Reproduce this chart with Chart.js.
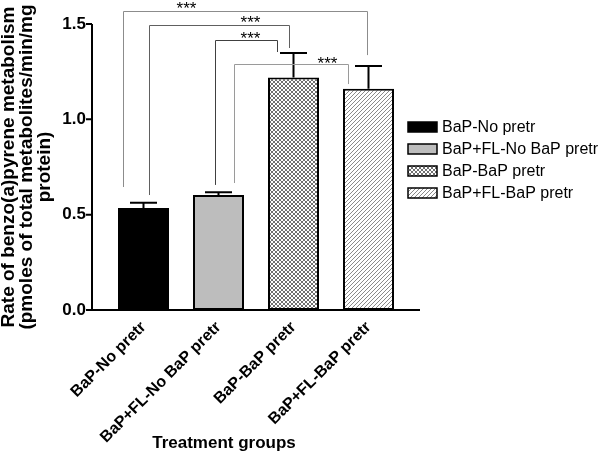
<!DOCTYPE html>
<html>
<head>
<meta charset="utf-8">
<script src="https://cdn.jsdelivr.net/npm/chart.js@4.4.1/dist/chart.umd.min.js"></script>
<style>
  body { margin: 0; background: #fff; }
  #wrap { width: 600px; height: 457px; }
</style>
</head>
<body>
<div id="wrap"><canvas id="myBarChart"></canvas></div>
<script>
// data
var groups = ['BaP-No pretr', 'BaP+FL-No BaP pretr', 'BaP-BaP pretr', 'BaP+FL-BaP pretr'];
var rates = [0.535, 0.603, 1.220, 1.161];
var rateErrors = [0.028, 0.015, 0.128, 0.119];
var yTicks = [0, 0.5, 1.0, 1.5];
var comparisons = [[0, 3], [0, 2], [1, 2], [1, 3]];
var signifLabels = ['***', '***', '***', '***'];

// layout of the significance brackets (value units / fractions of a category)
var bracketLevel = [1.568, 1.495, 1.417, 1.291];
var bracketLeftEnd = [0.645, 0.603, 0.656, 0.666];
var bracketRightEnd = [1.337, 1.374, 1.353, 1.185];
var bracketLeftShift = [-0.28, 0.067, -0.053, 0.21];
var bracketRightShift = [-0.02, -0.06, -0.22, -0.27];
var starPos = [0.573, 1.427, 1.427, 2.453];
var starLevel = [1.605, 1.529, 1.445, 1.319];
var bracketColors = ['#8c8c8c', '#606060', '#404040', '#9a9a9a'];

Chart.defaults.font.family = "'Liberation Sans', Arial, sans-serif";
Chart.defaults.color = '#000';

function makePattern(kind) {
    var c = document.createElement('canvas');
    c.width = 4; c.height = 4;
    var g = c.getContext('2d');
    g.fillStyle = '#fff';
    g.fillRect(0, 0, 4, 4);
    if (kind === 'cross') {
        g.fillStyle = '#707070';
        for (var i = 0; i < 4; i++) {
            g.fillRect(i, i, 1, 1);
            g.fillRect(3 - i, i, 1, 1);
        }
    } else {
        g.fillStyle = '#8a8a8a';
        for (var j = 0; j < 4; j++) {
            g.fillRect(j, 3 - j, 1, 1);
        }
    }
    return g.createPattern(c, 'repeat');
}

var fills = ['#000000', '#bdbdbd', makePattern('cross'), makePattern('diag')];

var AXIS_GAP = 14;   // y axis line sits left of the first category band
var X_EXTEND = 14;   // x axis line runs past the last band

var extrasPlugin = {
    id: 'extras',
    afterDatasetsDraw: function (chart) {
        var ctx = chart.ctx;
        var area = chart.chartArea;
        var x = chart.scales.x, y = chart.scales.y;
        var step = x.getPixelForValue(1) - x.getPixelForValue(0);
        function xAt(pos) { return x.getPixelForValue(0) + pos * step; }
        var axisX = area.left - AXIS_GAP;

        ctx.save();
        // axes
        ctx.strokeStyle = '#000';
        ctx.lineWidth = 2;
        ctx.beginPath();
        ctx.moveTo(axisX, y.getPixelForValue(1.5));
        ctx.lineTo(axisX, area.bottom);
        ctx.lineTo(area.right + X_EXTEND, area.bottom);
        yTicks.forEach(function (t) {
            var py = y.getPixelForValue(t);
            ctx.moveTo(axisX - 6, py);
            ctx.lineTo(axisX, py);
        });
        ctx.stroke();

        // error bars (upper only)
        var meta = chart.getDatasetMeta(0);
        meta.data.forEach(function (bar, i) {
            var top = y.getPixelForValue(rates[i] + rateErrors[i]);
            ctx.beginPath();
            ctx.moveTo(bar.x, bar.y);
            ctx.lineTo(bar.x, top);
            ctx.moveTo(bar.x - 13.5, top);
            ctx.lineTo(bar.x + 13.5, top);
            ctx.stroke();
        });

        // significance brackets
        ctx.lineWidth = 1;
        ctx.font = "17px 'Liberation Sans', Arial, sans-serif";
        ctx.textAlign = 'center';
        ctx.textBaseline = 'alphabetic';
        comparisons.forEach(function (pair, k) {
            var xl = Math.round(xAt(pair[0] + bracketLeftShift[k])) + 0.5;
            var xr = Math.round(xAt(pair[1] + bracketRightShift[k])) + 0.5;
            var yt = Math.round(y.getPixelForValue(bracketLevel[k])) + 0.5;
            ctx.strokeStyle = bracketColors[k];
            ctx.beginPath();
            ctx.moveTo(xl, y.getPixelForValue(bracketLeftEnd[k]));
            ctx.lineTo(xl, yt);
            ctx.lineTo(xr, yt);
            ctx.lineTo(xr, y.getPixelForValue(bracketRightEnd[k]));
            ctx.stroke();
            ctx.fillStyle = '#000';
            // asterisk glyph centre sits ~10px above the baseline
            ctx.fillText(signifLabels[k], xAt(starPos[k]), y.getPixelForValue(starLevel[k]) + 10);
        });

        // legend
        ctx.font = "16px 'Liberation Sans', Arial, sans-serif";
        ctx.textAlign = 'left';
        ctx.textBaseline = 'middle';
        groups.forEach(function (name, i) {
            var cy = 127 + i * 22;
            ctx.fillStyle = fills[i];
            ctx.fillRect(408, cy - 5, 29, 10);
            ctx.strokeStyle = '#000';
            ctx.lineWidth = 1.5;
            ctx.strokeRect(408, cy - 5, 29, 10);
            ctx.fillStyle = '#000';
            ctx.fillText(name, 442, cy + 1);
        });

        // x axis title
        ctx.font = "bold 17px 'Liberation Sans', Arial, sans-serif";
        ctx.textAlign = 'center';
        ctx.textBaseline = 'alphabetic';
        ctx.fillText('Treatment groups', 224, 448);
        ctx.restore();
    }
};

function clearPadding(scale) {
    scale.paddingTop = 0;
    scale.paddingBottom = 0;
}

var ctx = document.getElementById('myBarChart').getContext('2d');
var myBarChart = new Chart(ctx, {
    type: 'bar',
    data: {
        labels: groups,
        datasets: [{
            label: 'Rate',
            data: rates,
            backgroundColor: fills,
            borderColor: '#000',
            borderWidth: 2,
            borderSkipped: false,
            categoryPercentage: 1,
            barPercentage: 0.68
        }]
    },
    options: {
        responsive: true,
        maintainAspectRatio: false,
        animation: false,
        layout: { padding: { top: 24, right: 194, left: 0, bottom: 0 } },
        plugins: {
            legend: { display: false },
            tooltip: { enabled: false }
        },
        scales: {
            x: {
                offset: true,
                grid: { display: false, drawTicks: false },
                border: { display: false },
                ticks: {
                    autoSkip: false,
                    maxRotation: 45,
                    minRotation: 45,
                    padding: 8,
                    font: { size: 16, weight: 'bold' }
                },
                afterFit: function (scale) { scale.height = 147; clearPadding(scale); }
            },
            y: {
                min: 0,
                max: 1.5,
                afterBuildTicks: function (scale) {
                    scale.ticks = yTicks.map(function (v) { return { value: v }; });
                },
                grid: { display: false, drawTicks: false },
                border: { display: false },
                ticks: {
                    padding: 20,
                    font: { size: 17, weight: 'bold' },
                    callback: function (v) { return Number(v).toFixed(1); }
                },
                title: {
                    display: true,
                    text: ['Rate of benzo(a)pyrene metabolism', '(pmoles of total metabolites/min/mg', 'protein)'],
                    font: { size: 19, weight: 'bold', lineHeight: 0.95 },
                    padding: { top: 0, bottom: 0 }
                },
                afterFit: function (scale) { scale.width = 106; clearPadding(scale); }
            }
        }
    },
    plugins: [extrasPlugin]
});
</script>
</body>
</html>
